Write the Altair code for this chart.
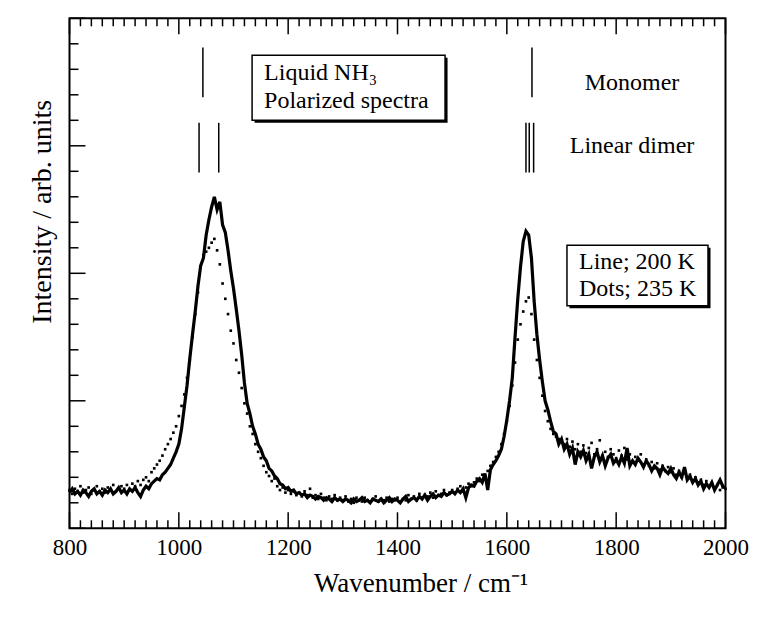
import altair as alt
import pandas as pd

# ---------------- data ----------------
wavenumber = list(range(800, 2001, 5))

intensity_200K = [
    0.28, 0.31, 0.27, 0.29, 0.26, 0.30, 0.28, 0.25, 0.29, 0.31, 0.27, 0.29, 0.26, 0.30, 0.28, 0.31, 0.27, 0.29, 0.32, 0.28,
    0.30, 0.27, 0.31, 0.29, 0.32, 0.28, 0.25, 0.30, 0.33, 0.31, 0.35, 0.37, 0.39, 0.38, 0.42, 0.44, 0.47, 0.50, 0.55, 0.60,
    0.66, 0.78, 0.95, 1.12, 1.33, 1.52, 1.70, 1.90, 2.06, 2.12, 2.30, 2.42, 2.52, 2.60, 2.50, 2.56, 2.38, 2.32, 2.18, 2.02,
    1.88, 1.72, 1.55, 1.36, 1.14, 0.98, 0.90, 0.80, 0.74, 0.66, 0.62, 0.56, 0.53, 0.47, 0.45, 0.41, 0.39, 0.35, 0.34, 0.31,
    0.32, 0.29, 0.30, 0.27, 0.28, 0.26, 0.27, 0.24, 0.26, 0.25, 0.23, 0.25, 0.24, 0.22, 0.24, 0.23, 0.21, 0.24, 0.22, 0.23,
    0.21, 0.23, 0.22, 0.20, 0.23, 0.21, 0.22, 0.24, 0.21, 0.22, 0.20, 0.23, 0.22, 0.21, 0.23, 0.20, 0.22, 0.24, 0.21, 0.23,
    0.22, 0.20, 0.23, 0.25, 0.21, 0.23, 0.24, 0.22, 0.25, 0.23, 0.26, 0.22, 0.25, 0.27, 0.24, 0.26, 0.25, 0.28, 0.26, 0.27,
    0.29, 0.27, 0.30, 0.28, 0.31, 0.24, 0.32, 0.34, 0.33, 0.37, 0.39, 0.36, 0.43, 0.30, 0.46, 0.50, 0.53, 0.57, 0.62, 0.72,
    0.85, 1.00, 1.18, 1.50, 1.80, 2.05, 2.25, 2.33, 2.30, 2.12, 1.78, 1.52, 1.32, 1.15, 1.00, 0.93, 0.84, 0.76, 0.74, 0.66,
    0.70, 0.62, 0.66, 0.58, 0.63, 0.50, 0.60, 0.56, 0.61, 0.53, 0.58, 0.47, 0.56, 0.60, 0.52, 0.57, 0.49, 0.55, 0.58, 0.51,
    0.54, 0.50, 0.56, 0.51, 0.63, 0.49, 0.53, 0.50, 0.55, 0.52, 0.48, 0.53, 0.50, 0.45, 0.49, 0.47, 0.42, 0.48, 0.45, 0.43,
    0.47, 0.42, 0.39, 0.44, 0.40, 0.48, 0.38, 0.41, 0.36, 0.39, 0.34, 0.37, 0.31, 0.35, 0.32, 0.36, 0.30, 0.34, 0.38, 0.33,
    0.32,
]

intensity_235K = [
    0.30, 0.27, 0.31, 0.29, 0.33, 0.28, 0.30, 0.32, 0.27, 0.30, 0.33, 0.29, 0.31, 0.28, 0.32, 0.30, 0.34, 0.29, 0.31, 0.33,
    0.31, 0.34, 0.30, 0.35, 0.33, 0.37, 0.34, 0.38, 0.40, 0.37, 0.44, 0.47, 0.50, 0.53, 0.57, 0.62, 0.66, 0.70, 0.75, 0.80,
    0.88, 0.96, 1.05, 1.18, 1.32, 1.50, 1.68, 1.85, 2.05, 2.14, 2.17, 2.20, 2.24, 2.27, 2.18, 2.07, 1.92, 1.80, 1.68, 1.55,
    1.45, 1.32, 1.22, 1.10, 0.98, 0.90, 0.80, 0.74, 0.66, 0.60, 0.55, 0.49, 0.44, 0.41, 0.37, 0.39, 0.33, 0.30, 0.32, 0.28,
    0.30, 0.27, 0.29, 0.26, 0.28, 0.25, 0.29, 0.26, 0.31, 0.24, 0.26, 0.23, 0.27, 0.24, 0.22, 0.25, 0.23, 0.26, 0.22, 0.24,
    0.22, 0.25, 0.21, 0.23, 0.20, 0.24, 0.22, 0.21, 0.24, 0.22, 0.21, 0.23, 0.25, 0.21, 0.23, 0.22, 0.24, 0.21, 0.23, 0.22,
    0.24, 0.21, 0.23, 0.22, 0.26, 0.23, 0.25, 0.22, 0.27, 0.24, 0.26, 0.25, 0.28, 0.24, 0.29, 0.26, 0.27, 0.30, 0.26, 0.28,
    0.30, 0.28, 0.31, 0.33, 0.29, 0.32, 0.35, 0.33, 0.36, 0.39, 0.37, 0.42, 0.40, 0.45, 0.49, 0.52, 0.56, 0.60, 0.66, 0.74,
    0.84, 0.96, 1.12, 1.30, 1.48, 1.60, 1.70, 1.78, 1.81, 1.68, 1.48, 1.32, 1.18, 1.04, 0.92, 0.84, 0.78, 0.74, 0.72, 0.70,
    0.69, 0.66, 0.70, 0.64, 0.68, 0.62, 0.66, 0.60, 0.65, 0.59, 0.63, 0.67, 0.58, 0.62, 0.69, 0.57, 0.60, 0.56, 0.62, 0.58,
    0.55, 0.61, 0.57, 0.63, 0.54, 0.58, 0.52, 0.56, 0.53, 0.58, 0.50, 0.54, 0.49, 0.52, 0.47, 0.51, 0.46, 0.49, 0.45, 0.48,
    0.44, 0.47, 0.42, 0.45, 0.40, 0.43, 0.39, 0.42, 0.37, 0.40, 0.36, 0.38, 0.34, 0.37, 0.33, 0.35, 0.31, 0.34, 0.30, 0.32,
    0.31,
]

# stick positions (cm-1)
monomer_lines = [1044, 1646]
monomer_top, monomer_bottom = 3.77, 3.38
dimer_lines = [1037, 1073, 1635, 1641, 1649]
dimer_top, dimer_bottom = 3.18, 2.79

# annotation texts
side_labels = ["Monomer", "Linear dimer"]
side_x = [1829, 1829]
side_y = [3.49, 3.00]

box1_lines = ["Liquid NH\u2083", "Polarized spectra"]
box1_text_x = [1156, 1156]
box1_text_y = [3.57, 3.35]
box1_x, box1_x2, box1_y, box1_y2 = 1134, 1487, 3.71, 3.20

box2_lines = ["Line; 200 K", "Dots; 235 K"]
box2_text_x = [1732, 1732]
box2_text_y = [2.09, 1.88]
box2_x, box2_x2, box2_y, box2_y2 = 1710, 1968, 2.22, 1.745

# tick values
x_major = [800, 1000, 1200, 1400, 1600, 1800, 2000]
x_minor = [v for v in range(800, 2001, 20) if v not in x_major]
y_major = [0, 1, 2, 3, 4]
y_minor = [round(i * 0.2, 2) for i in range(21) if i % 5 != 0]

# ---------------- chart ----------------
W, H = 656, 510
FONT = "Liberation Serif"

xs = alt.Scale(domain=[800, 2000], nice=False, zero=False)
ys = alt.Scale(domain=[0, 4], nice=False, zero=False)

n = min(len(wavenumber), len(intensity_200K), len(intensity_235K))
df = pd.DataFrame({
    "wn": wavenumber[:n],
    "i200": intensity_200K[:n],
    "i235": intensity_235K[:n],
})

xaxis = alt.Axis(
    values=x_major, format="d", ticks=False, domain=False, grid=False,
    labelFont=FONT, labelFontSize=23, labelColor="black", labelPadding=8,
    labelFlush=False, labelOverlap=False,
    title="Wavenumber / cm\u207b\u00b9", titleFont=FONT, titleFontSize=27,
    titleFontWeight="normal", titleColor="black", titlePadding=11,
    titleX=351)
yaxis = alt.Axis(
    labels=False, ticks=False, domain=False, grid=False,
    title="Intensity / arb. units", titleFont=FONT, titleFontSize=28,
    titleFontWeight="normal", titleColor="black", titlePadding=13,
    titleY=193)

base = alt.Chart(df)

dots = base.mark_square(size=7, color="black", opacity=1).encode(
    x=alt.X("wn:Q", scale=xs, axis=xaxis),
    y=alt.Y("i235:Q", scale=ys, axis=yaxis))
line = base.mark_line(color="black", strokeWidth=3.2).encode(
    x=alt.X("wn:Q", scale=xs), y=alt.Y("i200:Q", scale=ys))

mono_df = pd.DataFrame({"wn": monomer_lines, "v": monomer_bottom, "v2": monomer_top})
dimer_df = pd.DataFrame({"wn": dimer_lines, "v": dimer_bottom, "v2": dimer_top})
mono = alt.Chart(mono_df).mark_rule(color="black", strokeWidth=1.5).encode(
    x=alt.X("wn:Q", scale=xs), y=alt.Y("v:Q", scale=ys), y2="v2:Q")
dimer = alt.Chart(dimer_df).mark_rule(color="black", strokeWidth=1.5).encode(
    x=alt.X("wn:Q", scale=xs), y=alt.Y("v:Q", scale=ys), y2="v2:Q")

boxes_df = pd.DataFrame({
    "x": [box1_x, box2_x], "x2": [box1_x2, box2_x2],
    "y": [box1_y, box2_y], "y2": [box1_y2, box2_y2]})
shadow = alt.Chart(boxes_df).mark_rect(
    color="black", xOffset=2.5, x2Offset=2.5, yOffset=2.5, y2Offset=2.5).encode(
    x=alt.X("x:Q", scale=xs), x2="x2:Q", y=alt.Y("y:Q", scale=ys), y2="y2:Q")
boxes = alt.Chart(boxes_df).mark_rect(
    fill="white", stroke="black", strokeWidth=1.5).encode(
    x=alt.X("x:Q", scale=xs), x2="x2:Q", y=alt.Y("y:Q", scale=ys), y2="y2:Q")

side_df = pd.DataFrame({"x": side_x, "y": side_y, "t": side_labels})
side = alt.Chart(side_df).mark_text(
    font=FONT, fontSize=24, color="black", align="center", baseline="middle").encode(
    x=alt.X("x:Q", scale=xs), y=alt.Y("y:Q", scale=ys), text="t:N")

box_text_df = pd.DataFrame({
    "x": box1_text_x + box2_text_x, "y": box1_text_y + box2_text_y,
    "t": box1_lines + box2_lines})
box_text = alt.Chart(box_text_df).mark_text(
    font=FONT, fontSize=24, color="black", align="left", baseline="middle").encode(
    x=alt.X("x:Q", scale=xs), y=alt.Y("y:Q", scale=ys), text="t:N")

# inward ticks
def xticks(vals, length, top):
    d = pd.DataFrame({"wn": vals})
    if top:
        yv, y2v = alt.value(0), alt.value(length)
    else:
        yv, y2v = alt.value(H), alt.value(H - length)
    return alt.Chart(d).mark_rule(color="black", strokeWidth=1.5).encode(
        x=alt.X("wn:Q", scale=xs), y=yv, y2=y2v)

def yticks(vals, length):
    d = pd.DataFrame({"v": vals})
    return alt.Chart(d).mark_rule(color="black", strokeWidth=1.5).encode(
        y=alt.Y("v:Q", scale=ys), x=alt.value(0), x2=alt.value(length))

chart = alt.layer(
    dots, line, mono, dimer, shadow, boxes, side, box_text,
    xticks(x_major, 16, False), xticks(x_minor, 8, False),
    xticks(x_major, 16, True), xticks(x_minor, 8, True),
    yticks(y_major, 16), yticks(y_minor, 9),
).properties(
    width=W, height=H,
    autosize=alt.AutoSizeParams(type="none"),
    padding={"left": 61.5, "top": 10.3, "right": 30, "bottom": 85},
    background="white",
).configure_view(stroke="black", strokeWidth=2
).configure_axis(labelFont=FONT, titleFont=FONT)

chart.save("out.html", embed_options={"renderer": "svg", "actions": False})
